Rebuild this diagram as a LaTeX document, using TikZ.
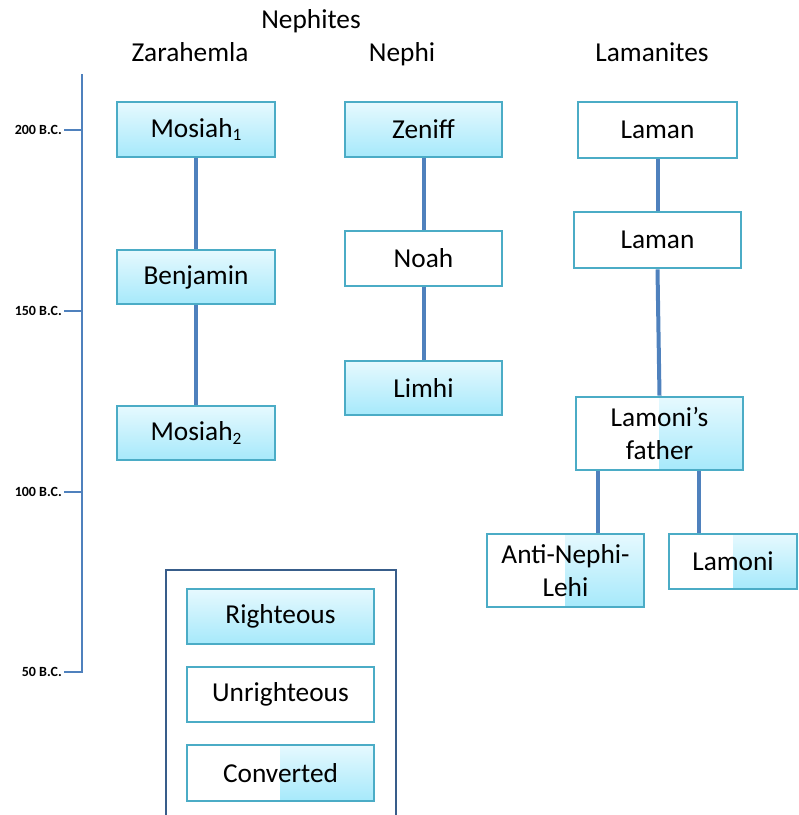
\documentclass[tikz,border=0pt]{standalone}
\usepackage{fontspec}
\setmainfont{Carlito}
\begin{document}
\begin{tikzpicture}[x=0.75pt,y=-0.75pt,
  lbl/.style={font=\fontsize{20.5}{24.75}\selectfont, text=black},
  basebox/.style={lbl, rectangle, inner sep=0pt, align=center, draw=boxedge},
  rightbox/.style={basebox, line width=1.1pt, top color=gradtop, bottom color=gradbot},
  unrightbox/.style={basebox, line width=2.2pt, fill=white},
  convbox/.style={basebox, line width=2.2pt, fill=white,
     path picture={\shade[top color=gradtop, bottom color=gradbot]
        (path picture bounding box.north) rectangle (path picture bounding box.south east);}},
  link/.style={draw=linkblue, line width=3pt},
  tick/.style={draw=linkblue, line width=1.5pt},
  datelbl/.style={font=\fontsize{10.5}{11}\selectfont\bfseries, anchor=east, inner sep=0pt},
  head/.style={lbl, anchor=base, inner sep=0pt}]
\definecolor{boxedge}{HTML}{4BACC6}
\definecolor{gradtop}{HTML}{E6F9FE}
\definecolor{gradbot}{HTML}{A6E9FB}
\definecolor{linkblue}{HTML}{4F81BD}
\definecolor{framecol}{HTML}{385D8A}
\useasboundingbox (0,0) rectangle (799,815);

% headers
\node[head] (hneph) at (311,28) {Nephites};
\node[head] (hzar) at (190,61) {Zarahemla};
\node[head] (hnephi) at (402,61) {Nephi};
\node[head] (hlam) at (652,61) {Lamanites};

% timeline
\coordinate (tltop) at (82,74);
\coordinate (tlbot) at (82,672);
\coordinate (t50) at (64,672);
\coordinate (t200a) at (64,130); \coordinate (t200b) at (82,130);
\coordinate (t150a) at (64,311); \coordinate (t150b) at (82,311);
\coordinate (t100a) at (64,492); \coordinate (t100b) at (82,492);
\draw[tick] (tltop) -- (tlbot) -- (t50);
\draw[tick] (t200a) -- (t200b);
\draw[tick] (t150a) -- (t150b);
\draw[tick] (t100a) -- (t100b);
\node[datelbl] (d200) at (62,130) {200 B.C.};
\node[datelbl] (d150) at (62,311) {150 B.C.};
\node[datelbl] (d100) at (62,492) {100 B.C.};
\node[datelbl] (d50) at (62,672) {50 B.C.};

% Zarahemla
\node[rightbox, minimum width=118.5pt, minimum height=41.25pt] (mos1) at (196,129.5) {Mosiah\raisebox{-0.3ex}{\fontsize{13}{13}\selectfont 1}};
\node[rightbox, minimum width=118.5pt, minimum height=40.5pt] (benj) at (196,277) {Benjamin};
\node[rightbox, minimum width=118.5pt, minimum height=40.5pt] (mos2) at (196,433) {Mosiah\raisebox{-0.3ex}{\fontsize{13}{13}\selectfont 2}};
\draw[link] (mos1.south) -- (benj.north);
\draw[link] (benj.south) -- (mos2.north);

% Nephi
\node[rightbox, minimum width=117.75pt, minimum height=41.25pt] (zen) at (423.5,129.5) {Zeniff};
\node[unrightbox, minimum width=117.75pt, minimum height=41.25pt] (noah) at (423.5,258.5) {Noah};
\node[rightbox, minimum width=117.75pt, minimum height=40.5pt] (limhi) at (423.5,388) {Limhi};
\draw[link] (zen.south) -- (noah.north);
\draw[link] (noah.south) -- (limhi.north);

% Lamanites
\node[unrightbox, minimum width=119.25pt, minimum height=42pt] (lam1) at (657.5,130) {Laman};
\node[unrightbox, minimum width=125.25pt, minimum height=42pt] (lam2) at (657.5,240) {Laman};
\node[convbox, minimum width=125.25pt, minimum height=54.75pt] (lfa) at (659.5,433.5) {Lamoni’s\\father};
\node[convbox, minimum width=117.75pt, minimum height=54.75pt] (anl) at (565.5,570.5) {Anti-Nephi-\\Lehi};
\node[convbox, minimum width=96pt, minimum height=41.25pt] (lamoni) at (733,561.5) {Lamoni};
\draw[link] (lam1.south) -- (lam2.north);
\draw[link] (lam2.south) -- (lfa.north);
\coordinate (xa) at (598,0);
\coordinate (xb) at (699,0);
\draw[link] (lfa.south -| xa) -- (anl.north -| xa);
\draw[link] (lfa.south -| xb) -- (lamoni.north -| xb);

% legend
\coordinate (fr1) at (166,816);
\coordinate (fr2) at (166,570);
\coordinate (fr3) at (396,570);
\coordinate (fr4) at (396,816);
\draw[draw=framecol, line width=2.2pt] (fr1) -- (fr2) -- (fr3) -- (fr4);
\node[rightbox, minimum width=140.25pt, minimum height=41.25pt] (legr) at (280.5,616.5) {Righteous};
\node[unrightbox, minimum width=140.25pt, minimum height=41.25pt] (legu) at (280.5,694.5) {Unrighteous};
\node[convbox, minimum width=140.25pt, minimum height=42pt] (legc) at (280.5,773) {Converted};
\end{tikzpicture}
\end{document}
